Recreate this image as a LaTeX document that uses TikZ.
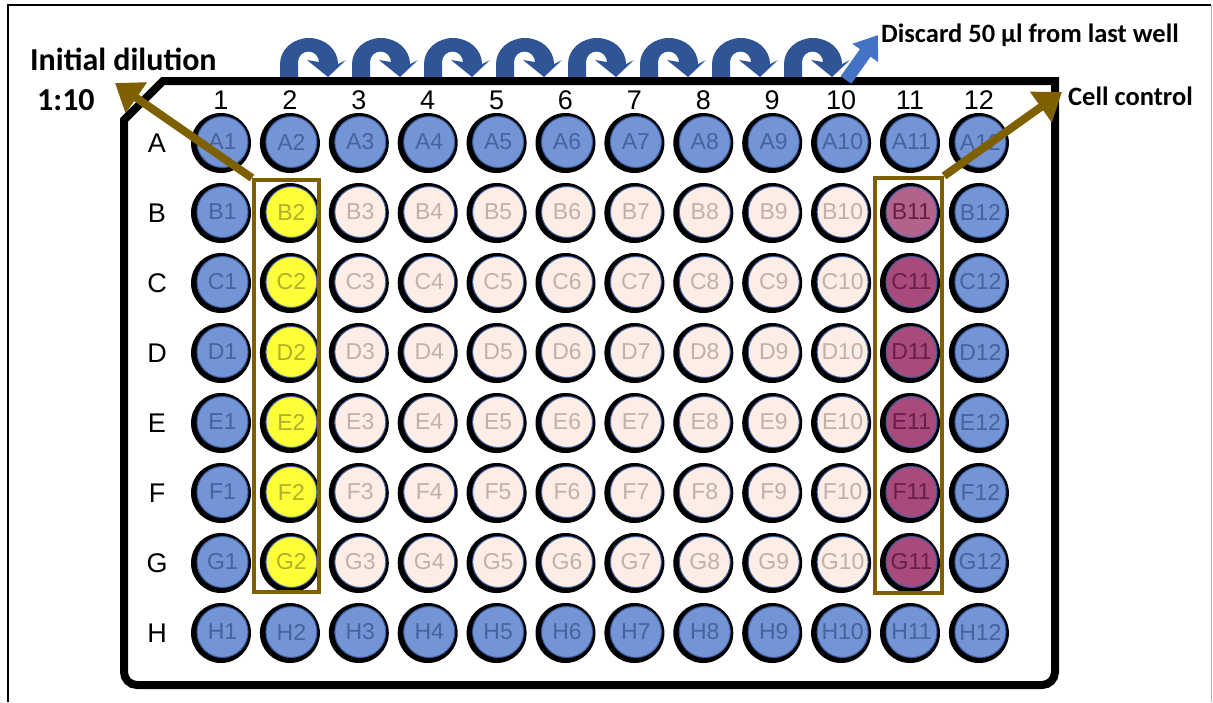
\documentclass[tikz,border=0pt]{standalone}
\usepackage{fontspec}
\setmainfont{Carlito}
\newfontfamily\arialf{Liberation Sans}
\usetikzlibrary{arrows.meta}
\definecolor{wellblue}{HTML}{7395D5}
\definecolor{wellbluetxt}{HTML}{46639F}
\definecolor{wellrim}{HTML}{3A5C9E}
\definecolor{wellpink}{HTML}{FDEDE4}
\definecolor{wellpinktxt}{HTML}{BFB1AA}
\definecolor{wellyel}{HTML}{FFFF38}
\definecolor{wellyeltxt}{HTML}{B0B02A}
\definecolor{wellmag}{HTML}{A84A7A}
\definecolor{wellmagl}{HTML}{B3628C}
\definecolor{wellmagtxt}{HTML}{6B1D45}
\definecolor{brownc}{HTML}{7F6000}
\definecolor{arrowdark}{HTML}{2F5597}
\definecolor{arrowlight}{HTML}{4472C4}
\tikzset{
  ring/.style={circle, fill=black, minimum size=60pt, inner sep=0pt},
  wellbase/.style={circle, minimum size=51pt, inner sep=0pt, draw=wellrim, line width=1pt,
    font=\arialf\fontsize{23}{23}\selectfont},
  bluew/.style={wellbase, fill=wellblue, text=wellbluetxt},
  pinkw/.style={wellbase, fill=wellpink, text=wellpinktxt},
  yelw/.style={wellbase, fill=wellyel, text=wellyeltxt},
  magw/.style={wellbase, fill=wellmag, text=wellmagtxt},
  magwl/.style={wellbase, fill=wellmagl, text=wellmagtxt},
  numlbl/.style={font=\arialf\fontsize{27}{27}\selectfont, inner sep=0pt},
  brownbox/.style={draw=brownc, line width=4pt, inner sep=0pt},
  brownarrow/.style={draw=brownc, line width=8pt, -{Triangle[length=26pt,width=36pt]}},
  bluearrow/.style={draw=arrowlight, line width=13pt, -{Triangle[length=22pt,width=30pt]}},
  lbl/.style={font=\bfseries\fontsize{32}{32}\selectfont, inner sep=0pt, anchor=base west},
  lblsmall/.style={font=\bfseries\fontsize{26.5}{26.5}\selectfont, inner sep=0pt, anchor=base west},
}
\begin{document}
\begin{tikzpicture}[x=1pt,y=-1pt]
\useasboundingbox (0,0) rectangle (1213,702);
% outer frame
\draw[line width=1.5pt] (8,702) -- (8,5) -- (1211,5);
\draw[black!30, line width=1pt] (1211.5,5) -- (1211.5,702);
% plate outline
\draw[line width=8pt] (124,400) -- (124,120) -- (163,81) -- (1055,81) [rounded corners=13pt] -- (1055,685) -- (124,685) -- (124,400);
% column numbers and row letters
\foreach \c in {1,...,12}{
  \pgfmathsetmacro\xx{221+68.9*(\c-1)}
  \node[numlbl] (col\c) at (\xx,100) {\c};
}
\foreach \r [count=\ri from 0] in {A,B,C,D,E,F,G,H}{
  \pgfmathsetmacro\yy{143+70*\ri}
  \node[numlbl] (row\r) at (157,\yy) {\r};
}
% wells
\foreach \r [count=\ri from 0] in {A,B,C,D,E,F,G,H}{
  \foreach \c in {1,...,12}{
    \pgfmathsetmacro\xx{221+68.9*(\c-1)}
    \pgfmathsetmacro\yy{143+70*\ri}
    \def\kind{pinkw}
    \ifnum\c=2 \def\kind{yelw}\fi
    \ifnum\c=11 \def\kind{magw}\ifnum\ri=1 \def\kind{magwl}\fi\fi
    \ifnum\c=1 \def\kind{bluew}\fi
    \ifnum\c=12 \def\kind{bluew}\fi
    \ifnum\ri=0 \def\kind{bluew}\fi
    \ifnum\ri=7 \def\kind{bluew}\fi
    \node[ring] (ring\r\c) at (\xx,\yy) {};
    \node[\kind] (\r\c) at (\xx+1.5,\yy-1) {\r\c};
  }
}
% boxes
\node[brownbox, minimum width=65pt, minimum height=412pt] (box2) at (286.5,386) {};
\node[brownbox, minimum width=67pt, minimum height=415pt] (box11) at (908.5,385.5) {};
% labels
\node[lbl] (init) at (30,70) {Initial dilution};
\node[lbl] (ratio) at (37,110) {1:10};
\node[lblsmall] (cell) at (1068,105) {Cell control};
\node[lblsmall] (discard) at (881,42) {Discard 50 µl from last well};
% brown arrows
\coordinate (initTip) at (115,83);
\coordinate (cellTip) at (1062,92);
\draw[brownarrow] (box2.north west) -- (initTip);
\draw[brownarrow] (box11.north east) -- (cellTip);
% serial dilution arrows
\foreach \i in {0,...,7}{
  \begin{scope}[shift={(72*\i,0)}]
    \fill[arrowdark] (280,77) -- (280,64) arc[start angle=180, end angle=360, x radius=29, y radius=26]
      -- (346,60) -- (328,77) -- (307,60) -- (319,62)
      arc[start angle=0, end angle=-180, radius=10.5] -- (298,77) -- cycle;
  \end{scope}
}
\coordinate (discTail) at (846,80);
\coordinate (discTip) at (878,35);
\draw[bluearrow] (discTail) -- (discTip);
\end{tikzpicture}
\end{document}
